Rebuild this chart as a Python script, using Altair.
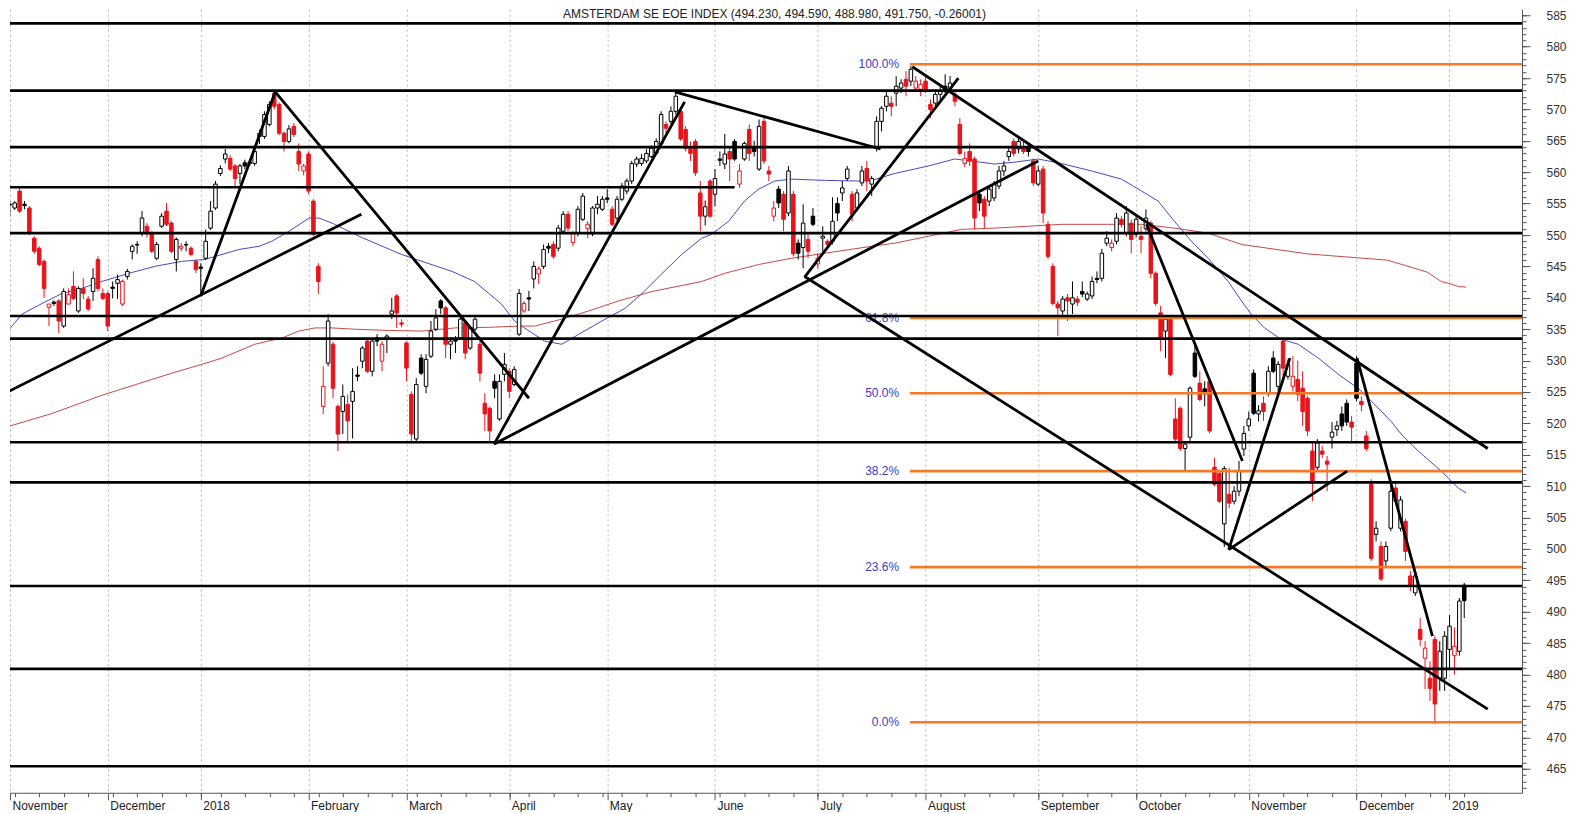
import json
import altair as alt
import pandas as pd

TITLE = "AMSTERDAM SE EOE INDEX (494.230, 494.590, 488.980, 491.750, -0.26001)"

opens = [
    554.6, 554.3, 554.9, 554.3, 557.0, 554.9, 554.3, 549.5, 547.9, 545.8,
    538.5, 539.3, 539.5, 535.5, 539.0, 541.8, 537.9, 541.5, 539.8, 541.0,
    546.1, 540.7, 540.7, 541.7, 542.3, 539.0, 543.4, 547.4, 548.5, 550.3,
    551.4, 550.3, 546.3, 551.4, 553.8, 551.9, 546.1, 547.9, 548.5, 547.9,
    545.8, 544.9, 546.3, 551.1, 554.3, 559.8, 562.1, 562.2, 561.0, 559.8,
    561.5, 561.6, 561.4, 565.7, 565.7, 567.6, 572.6, 570.8, 566.2, 564.9,
    567.3, 563.3, 560.2, 562.9, 555.4, 545.0, 522.7, 529.6, 532.6, 522.7,
    521.9, 523.0, 523.5, 527.7, 529.9, 533.1, 528.3, 533.6, 529.9, 533.4,
    537.4, 540.3, 536.0, 532.8, 524.6, 517.5, 530.4, 525.9, 530.7, 535.0,
    539.5, 538.4, 532.6, 533.4, 533.6, 536.0, 532.0, 535.0, 532.6, 523.2,
    522.4, 526.7, 520.7, 527.8, 528.3, 526.2, 534.2, 537.9, 540.0, 543.0,
    543.8, 545.0, 548.2, 548.5, 547.9, 550.6, 553.3, 548.8, 550.3, 552.5,
    551.0, 550.2, 554.3, 554.1, 555.9, 554.1, 552.7, 555.7, 557.0, 558.6,
    561.3, 561.4, 561.8, 562.5, 563.0, 564.5, 567.6, 568.1, 569.7, 569.7,
    566.8, 563.8, 564.9, 556.7, 553.0, 558.6, 556.5, 562.1, 561.3, 563.3,
    564.9, 558.1, 562.1, 566.8, 564.1, 560.5, 568.1, 560.2, 553.0, 557.3,
    556.5, 553.5, 556.5, 548.7, 548.0, 549.3, 553.0, 545.4, 549.5, 549.0,
    549.0, 555.0, 556.7, 559.0, 556.5, 554.3, 558.3, 560.6, 558.1, 564.1,
    568.1, 570.5, 571.0, 572.6, 573.4, 574.8, 574.5, 573.4, 573.2, 574.5,
    570.8, 571.0, 572.4, 573.7, 573.4, 572.4, 567.6, 561.4, 563.3, 562.1,
    556.5, 555.7, 555.4, 555.9, 557.8, 560.2, 562.5, 564.9, 563.7, 564.1,
    564.1, 561.8, 558.1, 560.5, 551.7, 545.0, 539.0, 537.9, 540.0, 539.0,
    539.8, 541.0, 539.8, 540.3, 543.1, 543.1, 548.7, 548.0, 549.0, 552.5,
    550.3, 551.9, 550.1, 549.8, 551.0, 551.9, 543.9, 537.6, 534.7, 536.6,
    520.7, 522.4, 516.0, 517.8, 531.2, 526.4, 525.5, 526.7, 513.0, 512.0,
    504.0, 508.7, 507.6, 509.2, 515.9, 519.6, 528.0, 521.5, 523.2, 524.8,
    530.4, 525.9, 533.1, 527.5, 525.9, 527.0, 525.6, 524.0, 515.6, 513.0,
    515.6, 514.0, 517.8, 519.0, 521.5, 523.2, 520.2, 529.6, 523.5, 518.0,
    510.3, 502.3, 500.4, 498.1, 503.3, 509.7, 503.3, 504.4, 495.7, 493.0,
    487.2, 482.6, 479.4, 485.6, 479.4, 479.4, 484.0, 483.0, 483.7, 494.23,
]
highs = [
    554.9, 554.6, 555.4, 555.4, 557.6, 555.4, 554.6, 549.8, 548.2, 546.1,
    539.0, 539.6, 539.8, 541.5, 541.5, 544.2, 541.8, 543.1, 540.3, 544.7,
    546.6, 541.5, 541.0, 542.6, 543.7, 542.9, 544.6, 548.5, 549.0, 553.8,
    551.9, 550.6, 548.9, 553.5, 555.1, 552.2, 549.6, 548.7, 549.0, 548.2,
    546.1, 545.5, 550.9, 555.4, 558.6, 561.1, 563.7, 562.7, 561.3, 561.3,
    562.0, 562.1, 563.8, 566.8, 569.7, 571.3, 573.2, 571.1, 566.5, 567.5,
    567.8, 564.6, 561.3, 563.3, 555.7, 545.5, 529.1, 537.4, 533.0, 523.0,
    526.2, 524.6, 528.8, 529.1, 532.3, 533.6, 533.6, 534.2, 533.1, 534.2,
    540.0, 540.6, 536.6, 533.1, 525.1, 527.2, 531.0, 531.0, 536.3, 538.2,
    539.8, 538.7, 533.4, 533.9, 537.1, 536.3, 535.5, 537.1, 533.1, 524.8,
    522.7, 527.8, 527.8, 531.2, 528.8, 529.1, 541.4, 539.5, 541.1, 545.8,
    545.0, 548.5, 548.7, 549.0, 551.6, 553.8, 553.8, 550.6, 554.6, 556.7,
    552.2, 554.6, 556.2, 556.2, 557.3, 554.6, 556.2, 558.3, 559.0, 561.8,
    562.5, 562.9, 563.7, 564.3, 565.4, 569.7, 568.1, 570.5, 573.2, 570.0,
    567.3, 564.9, 565.3, 558.6, 555.5, 558.9, 560.5, 563.3, 566.1, 564.1,
    565.3, 561.3, 564.9, 567.6, 565.0, 568.4, 568.6, 561.0, 555.4, 557.8,
    557.0, 561.0, 557.0, 549.3, 554.9, 550.3, 554.3, 547.1, 551.4, 549.3,
    556.0, 556.0, 558.6, 561.0, 557.0, 557.3, 561.0, 561.8, 559.4, 568.9,
    570.5, 572.9, 572.1, 575.3, 574.8, 576.1, 576.9, 575.3, 574.8, 575.3,
    571.6, 573.2, 573.7, 575.6, 575.3, 572.9, 568.6, 563.3, 564.6, 562.5,
    557.0, 556.2, 557.8, 558.6, 561.0, 561.8, 564.1, 565.4, 565.7, 564.9,
    564.4, 562.2, 561.0, 561.0, 552.2, 545.5, 539.5, 540.3, 540.6, 542.6,
    540.3, 542.6, 541.0, 543.4, 544.2, 547.8, 550.6, 549.3, 553.5, 553.0,
    554.6, 552.5, 553.0, 551.4, 554.1, 552.2, 544.2, 538.7, 537.1, 537.1,
    524.0, 522.7, 517.2, 525.9, 532.6, 528.3, 526.7, 527.0, 514.5, 512.4,
    513.2, 512.9, 510.0, 514.0, 519.6, 521.9, 528.6, 522.9, 524.3, 529.1,
    531.5, 529.9, 533.6, 530.2, 530.7, 530.0, 528.3, 524.3, 517.2, 517.5,
    516.4, 514.8, 520.2, 520.4, 522.7, 523.8, 521.2, 530.7, 524.3, 518.8,
    511.1, 504.4, 501.2, 501.2, 510.0, 510.8, 508.4, 504.8, 496.5, 496.5,
    489.0, 485.3, 482.1, 486.1, 485.3, 486.9, 489.5, 487.5, 492.2, 494.59,
]
lows = [
    553.5, 552.7, 553.0, 554.0, 553.5, 554.1, 550.0, 547.0, 545.0, 540.0,
    535.5, 538.7, 534.4, 535.2, 539.0, 539.6, 537.6, 539.8, 537.9, 539.5,
    541.0, 539.6, 534.7, 539.9, 539.8, 538.7, 542.9, 546.1, 547.0, 549.8,
    549.6, 547.1, 546.0, 551.1, 551.4, 547.1, 544.2, 547.4, 547.4, 546.6,
    543.9, 540.3, 546.0, 550.8, 554.0, 559.4, 561.4, 560.2, 557.8, 558.1,
    560.5, 561.0, 561.0, 564.5, 565.3, 567.3, 570.0, 565.9, 563.3, 564.6,
    565.6, 560.2, 559.5, 556.5, 549.8, 540.6, 521.5, 529.1, 524.0, 515.6,
    518.3, 517.2, 517.6, 526.7, 528.8, 528.0, 527.5, 532.3, 528.3, 531.2,
    536.6, 535.2, 535.3, 526.7, 517.0, 517.2, 527.7, 524.8, 530.4, 534.7,
    537.4, 530.4, 530.2, 531.2, 533.3, 530.2, 531.7, 534.7, 526.7, 518.8,
    516.9, 524.0, 520.4, 526.7, 524.0, 525.9, 533.9, 537.6, 537.9, 541.5,
    542.2, 544.6, 547.1, 546.2, 547.4, 550.3, 550.6, 548.2, 549.8, 552.2,
    549.5, 549.8, 553.3, 553.8, 555.1, 551.4, 552.2, 555.4, 556.5, 558.1,
    560.8, 561.0, 561.4, 562.2, 562.7, 564.0, 566.2, 567.6, 569.2, 565.0,
    563.3, 561.8, 559.4, 550.6, 551.5, 552.7, 554.6, 561.0, 560.5, 558.6,
    561.8, 557.5, 561.8, 561.8, 562.5, 560.2, 561.3, 558.6, 552.2, 554.3,
    550.6, 553.0, 546.6, 546.1, 544.7, 546.3, 551.4, 544.6, 547.4, 547.9,
    548.5, 552.2, 555.4, 558.6, 552.2, 553.8, 557.8, 557.0, 556.2, 563.3,
    566.5, 569.7, 568.9, 570.5, 572.6, 572.1, 573.7, 572.9, 572.1, 572.6,
    568.6, 570.5, 571.3, 572.6, 572.6, 570.5, 562.7, 560.8, 561.0, 550.9,
    553.8, 551.1, 554.6, 555.4, 557.3, 559.4, 561.8, 562.5, 563.0, 562.9,
    562.5, 557.8, 557.8, 551.9, 546.2, 538.8, 533.9, 537.1, 536.3, 537.4,
    538.7, 540.1, 539.5, 539.8, 542.3, 542.6, 548.2, 547.4, 548.5, 551.2,
    549.8, 547.1, 549.6, 547.1, 550.6, 543.1, 538.7, 531.5, 530.4, 527.5,
    517.2, 515.6, 512.4, 517.2, 527.2, 523.5, 522.7, 518.4, 510.0, 507.3,
    500.3, 506.5, 507.1, 508.4, 514.8, 518.8, 521.3, 520.3, 520.4, 524.3,
    528.0, 525.1, 527.5, 527.0, 525.1, 523.5, 519.6, 518.0, 507.6, 512.4,
    514.5, 509.2, 516.0, 518.0, 518.8, 519.6, 517.2, 523.5, 521.9, 515.6,
    498.1, 501.2, 494.9, 497.3, 502.8, 507.1, 502.8, 498.1, 493.3, 492.5,
    484.5, 477.7, 475.8, 472.1, 477.4, 477.4, 481.0, 480.0, 483.0, 488.98,
]
closes = [
    554.0, 553.8, 554.8, 555.1, 553.8, 554.7, 550.3, 547.4, 545.3, 541.5,
    539.0, 539.1, 536.3, 541.0, 540.5, 539.9, 541.5, 540.7, 538.2, 543.1,
    541.5, 539.9, 535.5, 541.5, 542.9, 542.6, 544.2, 548.2, 548.4, 552.7,
    550.2, 547.4, 548.5, 553.0, 551.7, 547.4, 549.3, 548.2, 548.4, 546.9,
    544.5, 544.7, 549.0, 553.8, 558.1, 560.6, 562.9, 560.5, 559.0, 561.0,
    561.0, 561.4, 563.3, 566.2, 569.2, 570.8, 570.5, 566.2, 564.9, 566.9,
    566.0, 561.3, 561.0, 557.0, 550.1, 542.6, 525.9, 536.3, 525.6, 518.3,
    524.3, 520.4, 525.1, 527.5, 532.0, 528.3, 533.1, 533.1, 532.6, 533.9,
    537.9, 537.6, 535.8, 528.8, 518.3, 526.2, 528.0, 530.2, 534.7, 536.8,
    538.4, 532.6, 533.1, 533.1, 536.6, 531.2, 535.2, 536.6, 528.0, 521.5,
    518.8, 525.6, 526.7, 529.4, 525.1, 528.6, 540.7, 539.1, 539.8, 545.0,
    544.6, 547.7, 547.9, 546.6, 551.1, 553.3, 551.1, 550.2, 554.1, 556.2,
    551.7, 554.3, 554.9, 555.7, 555.7, 551.7, 555.7, 557.8, 558.6, 561.4,
    562.1, 562.2, 563.0, 563.8, 564.9, 569.2, 567.0, 569.7, 572.1, 565.3,
    563.8, 563.0, 559.9, 553.0, 554.5, 553.0, 559.0, 561.9, 562.9, 562.1,
    562.1, 560.2, 564.6, 563.0, 563.3, 567.3, 561.8, 559.7, 554.3, 555.1,
    552.5, 560.2, 547.0, 547.1, 551.9, 547.4, 551.7, 546.3, 549.8, 548.5,
    552.2, 553.5, 557.5, 560.5, 553.3, 556.7, 560.2, 558.6, 559.0, 568.1,
    570.2, 572.1, 570.5, 573.7, 574.2, 573.7, 576.4, 574.5, 574.0, 573.2,
    570.0, 572.4, 572.9, 573.2, 574.2, 571.3, 563.0, 562.2, 561.8, 552.7,
    555.1, 553.0, 557.3, 558.1, 560.2, 561.0, 563.3, 563.0, 564.9, 563.3,
    563.3, 558.3, 560.2, 553.5, 546.6, 539.1, 538.4, 539.8, 539.5, 540.0,
    539.3, 540.6, 540.6, 542.6, 542.9, 547.1, 549.5, 548.7, 552.7, 551.7,
    553.5, 549.3, 552.5, 549.3, 552.7, 543.9, 539.1, 533.6, 536.6, 527.8,
    517.5, 516.0, 516.7, 525.6, 527.5, 523.8, 524.7, 518.8, 510.3, 507.6,
    512.8, 507.3, 509.2, 512.4, 518.4, 520.7, 521.6, 522.0, 521.9, 528.3,
    528.3, 529.4, 528.8, 529.4, 527.5, 524.6, 521.9, 518.8, 510.5, 516.9,
    515.1, 513.5, 518.6, 519.6, 519.6, 520.2, 519.4, 524.0, 523.0, 516.0,
    498.5, 503.3, 495.2, 500.4, 509.2, 507.6, 507.8, 499.6, 494.1, 495.7,
    485.6, 484.2, 477.8, 475.3, 483.7, 486.1, 487.7, 484.5, 491.7, 491.75,
]

# exchange holidays (trading-day axis, like the source chart)
holidays = ["2017-12-25", "2017-12-26", "2018-01-01", "2018-03-30", "2018-04-02",
            "2018-05-01", "2018-12-25", "2018-12-26", "2019-01-01"]
month_labels = ["November", "December", "2018", "February", "March", "April", "May",
                "June", "July", "August", "September", "October", "November",
                "December", "2019"]

# horizontal support / resistance levels (full width)
hline_levels = [583.7, 573.0, 564.0, 550.3, 537.1, 533.5, 517.0, 510.6, 494.1, 480.9, 465.4]
# shorter level on the left
partial_level = [557.6]
partial_from = [0]
partial_to = [150]

# Fibonacci retracement levels
fib_levels = [577.2, 536.8, 524.8, 512.4, 497.1, 472.4]
fib_labels = ["100.0%", "61.8%", "50.0%", "38.2%", "23.6%", "0.0%"]
fib_start = 185.8
fib_label_at = 183.6

# trend lines (trading-day index, price)
trend_x1 = [0.0, 41.0, 56.2, 100.9, 100.9, 137.8, 164.3, 164.3, 186.3, 234.1, 250.9, 250.9, 277.1]
trend_y1 = [524.4, 540.3, 572.8, 516.7, 516.7, 572.8, 543.3, 543.4, 576.8, 551.7, 499.9, 499.9, 530.4]
trend_x2 = [73.8, 56.2, 108.0, 139.8, 212.0, 179.8, 195.7, 303.8, 303.8, 253.7, 263.4, 275.1, 292.5]
trend_y2 = [553.3, 572.8, 524.0, 571.2, 561.8, 563.7, 575.0, 474.5, 516.0, 514.0, 530.4, 512.4, 486.1]

# moving averages
ma_fast_x = [0.4, 4.5, 8.6, 12.7, 16.7, 20.8, 26.3, 31.6, 37.1, 41.8, 48.8, 52.9, 55.5, 59.0,
             63.1, 65.1, 67.8, 73.9, 82.0, 92.3, 96.9, 102.4, 105.1, 106.5, 111.2, 114.7,
             118.2, 122.9, 127.6, 131.0, 135.1, 139.2, 143.3, 145.3, 148.8, 152.0, 154.9,
             158.2, 161.6, 168.4, 175.3, 178.0, 182.7, 189.6, 194.9, 198.4, 203.1, 207.1,
             212.0, 216.7, 222.9, 229.0, 233.1, 236.5, 239.8, 243.3, 246.7, 250.8, 253.5,
             255.5, 258.2, 261.6, 265.1, 269.2, 273.3, 277.3, 280.6, 284.1, 286.1, 289.6,
             294.3, 297.8, 299.4]
ma_fast_y = [533.6, 537.4, 539.1, 540.7, 541.5, 542.6, 543.9, 545.0, 545.8, 546.1, 547.7,
             548.2, 549.0, 550.6, 552.7, 552.7, 551.9, 549.6, 546.9, 544.2, 542.6, 539.0,
             536.3, 535.5, 533.1, 532.6, 534.2, 536.3, 538.3, 540.6, 543.8, 546.9, 549.5,
             550.1, 552.2, 555.4, 557.3, 558.6, 558.9, 558.7, 558.6, 558.7, 559.8, 561.0,
             562.1, 561.8, 561.3, 561.6, 562.1, 561.4, 560.2, 558.9, 557.0, 555.4, 552.2,
             549.0, 546.3, 542.6, 539.5, 537.4, 535.2, 533.4, 532.6, 530.4, 527.8, 525.6,
             523.1, 520.3, 518.3, 515.6, 512.4, 509.7, 508.9]
ma_slow_x = [0.4, 10.7, 20.9, 35.1, 41.2, 45.3, 52.0, 57.6, 61.0, 64.3, 67.8, 72.4, 79.4,
             86.1, 92.9, 99.8, 106.5, 109.2, 114.7, 120.2, 126.3, 133.1, 143.3, 148.0,
             154.9, 161.6, 168.4, 178.0, 182.7, 189.6, 196.3, 203.1, 210.0, 216.7, 226.3,
             233.1, 239.8, 246.7, 253.5, 266.9, 283.3, 291.4, 294.3, 296.3, 297.8, 299.4]
ma_slow_y = [519.2, 521.6, 524.5, 528.0, 529.4, 530.4, 532.6, 533.6, 534.7, 535.2, 535.2,
             535.0, 534.8, 534.7, 535.2, 535.3, 535.5, 535.5, 536.6, 537.9, 539.5, 541.0,
             542.6, 543.9, 545.3, 546.3, 547.1, 548.2, 548.7, 549.8, 550.9, 551.1, 551.4,
             551.7, 551.7, 551.7, 551.1, 550.3, 548.5, 547.0, 546.0, 544.1, 542.6, 542.2,
             541.8, 541.7]

# ---------------------------------------------------------------- tables
n = len(opens)
dates = pd.bdate_range("2017-11-01", "2019-01-31")
dates = dates[~dates.isin(pd.to_datetime(holidays))][:n]

df = pd.DataFrame({"i": range(n), "date": dates, "open": opens, "high": highs,
                   "low": lows, "close": closes})
RED = "#e8141c"
prev = df["close"].shift(1).fillna(df["open"])
df["stroke"] = [RED if c < p else "#000000" for c, p in zip(df["close"], prev)]
df["fill"] = [s if c < o else "#ffffff" for s, c, o in zip(df["stroke"], df["close"], df["open"])]
df["xl"] = df["i"] - 0.36
df["xr"] = df["i"] + 0.36
df["btop"] = df[["open", "close"]].max(axis=1)
df["bbot"] = df[["open", "close"]].min(axis=1)

X_DOM = [2.04, 310.8]
Y_DOM = [461.17, 585.955]

month_idx = [int(v) for v in df.groupby(df["date"].dt.to_period("M"))["i"].min().tolist()]
week_idx = [int(v) for v in df.groupby(df["date"].dt.to_period("W"))["i"].min().tolist()]
month_pos = [max(float(m), X_DOM[0]) for m in month_idx]
week_pos = [w for w in week_idx if w >= X_DOM[0]]
label_expr = "%s[indexof(%s, datum.value)]" % (json.dumps(month_labels), json.dumps(month_pos))

xs = alt.Scale(domain=X_DOM, nice=False, zero=False)
ys = alt.Scale(domain=Y_DOM, nice=False, zero=False)
FONT = "Liberation Sans"

def X(field, **kw):
    return alt.X(field, type="quantitative", scale=xs, axis=None, **kw)

def Y(field, **kw):
    return alt.Y(field, type="quantitative", scale=ys, axis=None, **kw)

# moving averages
fast = pd.DataFrame({"i": ma_fast_x, "v": ma_fast_y})
slow = pd.DataFrame({"i": ma_slow_x, "v": ma_slow_y})
fast_line = alt.Chart(fast).mark_line(color="#4848c8", strokeWidth=1, clip=True).encode(x=X("i"), y=Y("v"))
slow_line = alt.Chart(slow).mark_line(color="#c84848", strokeWidth=1, clip=True).encode(x=X("i"), y=Y("v"))

# wicks (carry the main axes)
x_axis = alt.Axis(values=month_pos, labelExpr=label_expr, orient="bottom", grid=True,
                  gridDash=[2, 3], gridColor="#b8b8b8", gridWidth=1, tickSize=7,
                  tickColor="#555555", domainColor="#555555", labelAlign="left",
                  labelOffset=2, labelPadding=1, labelFont=FONT, labelFontSize=12,
                  labelColor="#222222", labelFlush=False, labelOverlap=False,
                  labelBaseline="top", title=None)
y_axis = alt.Axis(values=list(range(465, 586, 5)), orient="right", grid=False, tickSize=8,
                  tickColor="#555555", domainColor="#555555", labelPadding=16,
                  labelFont=FONT, labelFontSize=12, labelColor="#333333", format="d",
                  labelFlush=False, title=None)
wicks = alt.Chart(df).mark_rule(strokeWidth=1, clip=True).encode(
    x=alt.X("i:Q", scale=xs, axis=x_axis),
    y=alt.Y("low:Q", scale=ys, axis=y_axis),
    y2="high:Q",
    color=alt.Color("stroke:N", scale=None),
)
bodies = alt.Chart(df).mark_rect(strokeWidth=1, clip=True).encode(
    x=X("xl"), x2="xr", y=Y("bbot"), y2="btop",
    fill=alt.Color("fill:N", scale=None),
    stroke=alt.Color("stroke:N", scale=None),
)

# Fibonacci lines and labels
fib = pd.DataFrame({"v": fib_levels, "lab": fib_labels,
                    "x0": [fib_start] * len(fib_levels), "x1": [X_DOM[1]] * len(fib_levels),
                    "lx": [fib_label_at] * len(fib_levels)})
fib_rules = alt.Chart(fib).mark_rule(color="#f47a2a", strokeWidth=2.6, clip=True).encode(
    x=X("x0"), x2="x1", y=Y("v"))
fib_text = alt.Chart(fib).mark_text(align="right", baseline="middle", font=FONT, fontSize=12,
                                    color="#3c3cc8").encode(x=X("lx"), y=Y("v"), text="lab:N")

# black horizontal levels
hl = pd.DataFrame({"v": hline_levels})
hl_rules = alt.Chart(hl).mark_rule(color="#000000", strokeWidth=2.6).encode(y=Y("v"))
pl = pd.DataFrame({"v": partial_level, "a": partial_from, "b": partial_to})
pl_rule = alt.Chart(pl).mark_rule(color="#000000", strokeWidth=2.6, clip=True).encode(
    x=X("a"), x2="b", y=Y("v"))

# trend lines
tr = pd.DataFrame({"x1": trend_x1, "y1": trend_y1, "x2": trend_x2, "y2": trend_y2})
trend = alt.Chart(tr).mark_rule(color="#000000", strokeWidth=2.8, clip=True).encode(
    x=X("x1"), y=Y("y1"), x2="x2", y2="y2")

# title inside the plot
title = alt.Chart(pd.DataFrame({"t": [TITLE]})).mark_text(
    font=FONT, fontSize=12, color="#222222", align="center", baseline="middle"
).encode(text="t:N", x=alt.value(765), y=alt.value(5))

# minor ticks (weekly on x, one point on y)
minor = alt.Chart(df).mark_point(opacity=0, clip=True).encode(
    x=alt.X("i:Q", scale=xs, axis=alt.Axis(values=week_pos, orient="bottom", labels=False,
                                            grid=False, domain=False, tickSize=4,
                                            tickColor="#555555", title=None)),
    y=alt.Y("close:Q", scale=ys, axis=alt.Axis(values=list(range(462, 586)), orient="right",
                                                labels=False, grid=False, domain=False,
                                                tickSize=4, tickColor="#555555", title=None)),
)

chart = alt.layer(
    fast_line, slow_line, wicks, bodies, fib_rules, fib_text, hl_rules, pl_rule, trend, title, minor
).resolve_axis(x="independent", y="independent").properties(
    width=1513, height=784, padding=0, background="#ffffff"
).configure_view(stroke=None)

chart.save("out.html", embed_options={"renderer": "svg", "actions": False})
